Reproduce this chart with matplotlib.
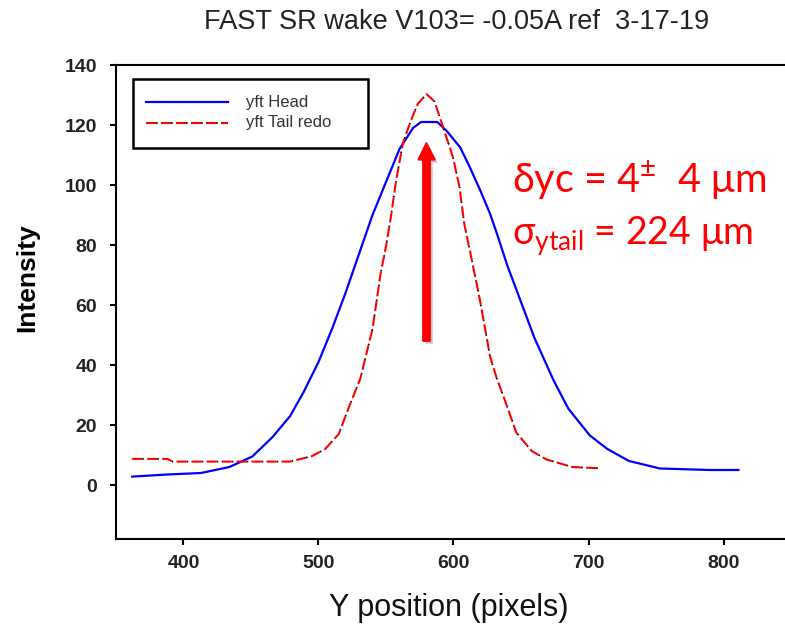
import matplotlib
matplotlib.use('Agg')
import matplotlib.pyplot as plt
import matplotlib.patheffects as pe
from matplotlib.patches import FancyArrowPatch, Rectangle
from matplotlib.lines import Line2D

plt.rcParams['font.family'] = ['Liberation Sans', 'DejaVu Sans']
plt.rcParams['lines.scale_dashes'] = False
plt.rcParams['mathtext.fontset'] = 'custom'
plt.rcParams['mathtext.rm'] = 'Lato'
plt.rcParams['mathtext.it'] = 'Lato:italic'
plt.rcParams['mathtext.bf'] = 'Lato:bold'

# yft Head profile
head_x = [362, 388, 413, 434, 451, 466, 479, 489, 500, 510, 520, 530, 540, 550,
          560, 570, 576, 588, 595, 605, 612, 620, 627, 632, 640, 650, 660, 674,
          685, 701, 714, 730, 753, 790, 811]
head_y = [2.8, 3.5, 4.0, 6.0, 9.5, 16, 23, 31, 41, 52, 64, 77, 90, 101,
          112, 119, 121, 121, 118, 112.5, 106, 98, 90.5, 84, 73, 61, 49, 35,
          25.5, 16.5, 12, 8, 5.5, 5, 5]

# yft Tail redo profile
tail_x = [362, 388, 392, 420, 450, 479, 495, 505, 515, 523, 531, 540, 546, 550,
          554, 557.5, 562.5, 568.5, 573.5, 580, 586, 593, 599.5, 604.4, 608,
          614, 619, 624, 627, 632, 638.5, 646.5, 658, 669, 688, 707]
tail_y = [8.7, 8.7, 7.8, 7.8, 7.8, 7.8, 9.6, 12, 17, 26.5, 35.5, 52, 70.5, 79.5,
          90.5, 101.5, 114, 121.5, 127, 130.3, 127.8, 118.3, 109.4, 99.4, 87,
          74, 63, 50.6, 43, 35.6, 27.7, 17.5, 11.3, 8.5, 6, 5.6]

x_ticks = [400, 500, 600, 700, 800]
y_ticks = [0, 20, 40, 60, 80, 100, 120, 140]
arrow_x = 580
arrow_y = (48, 114)

W, H = 785, 629
fig = plt.figure(figsize=(W / 100, H / 100), dpi=100)
ax = fig.add_axes([116 / W, (H - 539) / H, 675 / W, (539 - 65) / H])

ax.plot(head_x, head_y, color='#0000ff', lw=1.6)
ax.plot(tail_x, tail_y, color='black', lw=1.2, ls=(3.6, (1.2, 9.6)))
ax.plot(tail_x, tail_y, color='red', lw=1.5, ls=(0, (7.2, 3.6)))

arr = FancyArrowPatch((arrow_x, arrow_y[0]), (arrow_x, arrow_y[1]),
                      arrowstyle='simple,head_width=0.6,head_length=0.6,tail_width=0.25',
                      mutation_scale=20, color='red', shrinkA=0, shrinkB=0,
                      path_effects=[pe.withSimplePatchShadow(offset=(2, -2), alpha=0.25),
                                    pe.Normal()])
ax.add_patch(arr)

ax.set_xlim(350, 850)
ax.set_ylim(-18, 140)
ax.set_xticks(x_ticks)
ax.set_yticks(y_ticks)
ax.tick_params(direction='out', length=4.5, width=1.5, labelsize=14, pad=7,
               colors='black')
ax.tick_params(axis='y', pad=9)
for lab in ax.get_xticklabels() + ax.get_yticklabels():
    lab.set_fontweight('bold')
    lab.set_color('#222222')
for s in ax.spines.values():
    s.set_linewidth(1.5)

# titles and axis labels
fig.text(457 / W, 1 - 22 / H, 'FAST SR wake V103= -0.05A ref  3-17-19',
         ha='center', va='center', fontsize=19.5, color='#222222')
fig.text(27 / W, 1 - 278 / H, 'Intensity', rotation=90, ha='center', va='center',
         fontsize=19, fontweight='bold')
fig.text(449 / W, 1 - 608 / H, 'Y position (pixels)', ha='center', va='center',
         fontsize=22, color='#111111')

# legend box
def fx(px):
    return px / W

def fy(py):
    return 1 - py / H

fig.patches.append(Rectangle((fx(133), fy(148)), (368 - 133) / W, (148 - 79) / H,
                             transform=fig.transFigure, fill=False, lw=1.8,
                             edgecolor='black'))
fig.lines.append(Line2D([fx(146), fx(228)], [fy(102), fy(102)],
                        transform=fig.transFigure, color='#0000ff', lw=1.6))
fig.lines.append(Line2D([fx(146), fx(228)], [fy(123), fy(123)],
                        transform=fig.transFigure, color='black', lw=1.2,
                        ls=(3.6, (1.2, 9.6))))
fig.lines.append(Line2D([fx(146), fx(228)], [fy(123), fy(123)],
                        transform=fig.transFigure, color='red', lw=1.5,
                        ls=(0, (7.2, 3.6))))
fig.text(fx(246), fy(102), 'yft Head', va='center', fontsize=12, color='#333333')
fig.text(fx(246), fy(122), 'yft Tail redo', va='center', fontsize=12, color='#333333')

# annotation
fig.text(fx(512), fy(193), 'δyc = 4$^{\\pm}$  4 μm', family='Lato', fontsize=28.5,
         color='red', va='baseline')
fig.text(fx(512), fy(245), 'σ$_{\\mathrm{ytail}}$ = 224 μm', family='Lato', fontsize=27,
         color='red', va='baseline')

fig.savefig('out.png', dpi=100)
